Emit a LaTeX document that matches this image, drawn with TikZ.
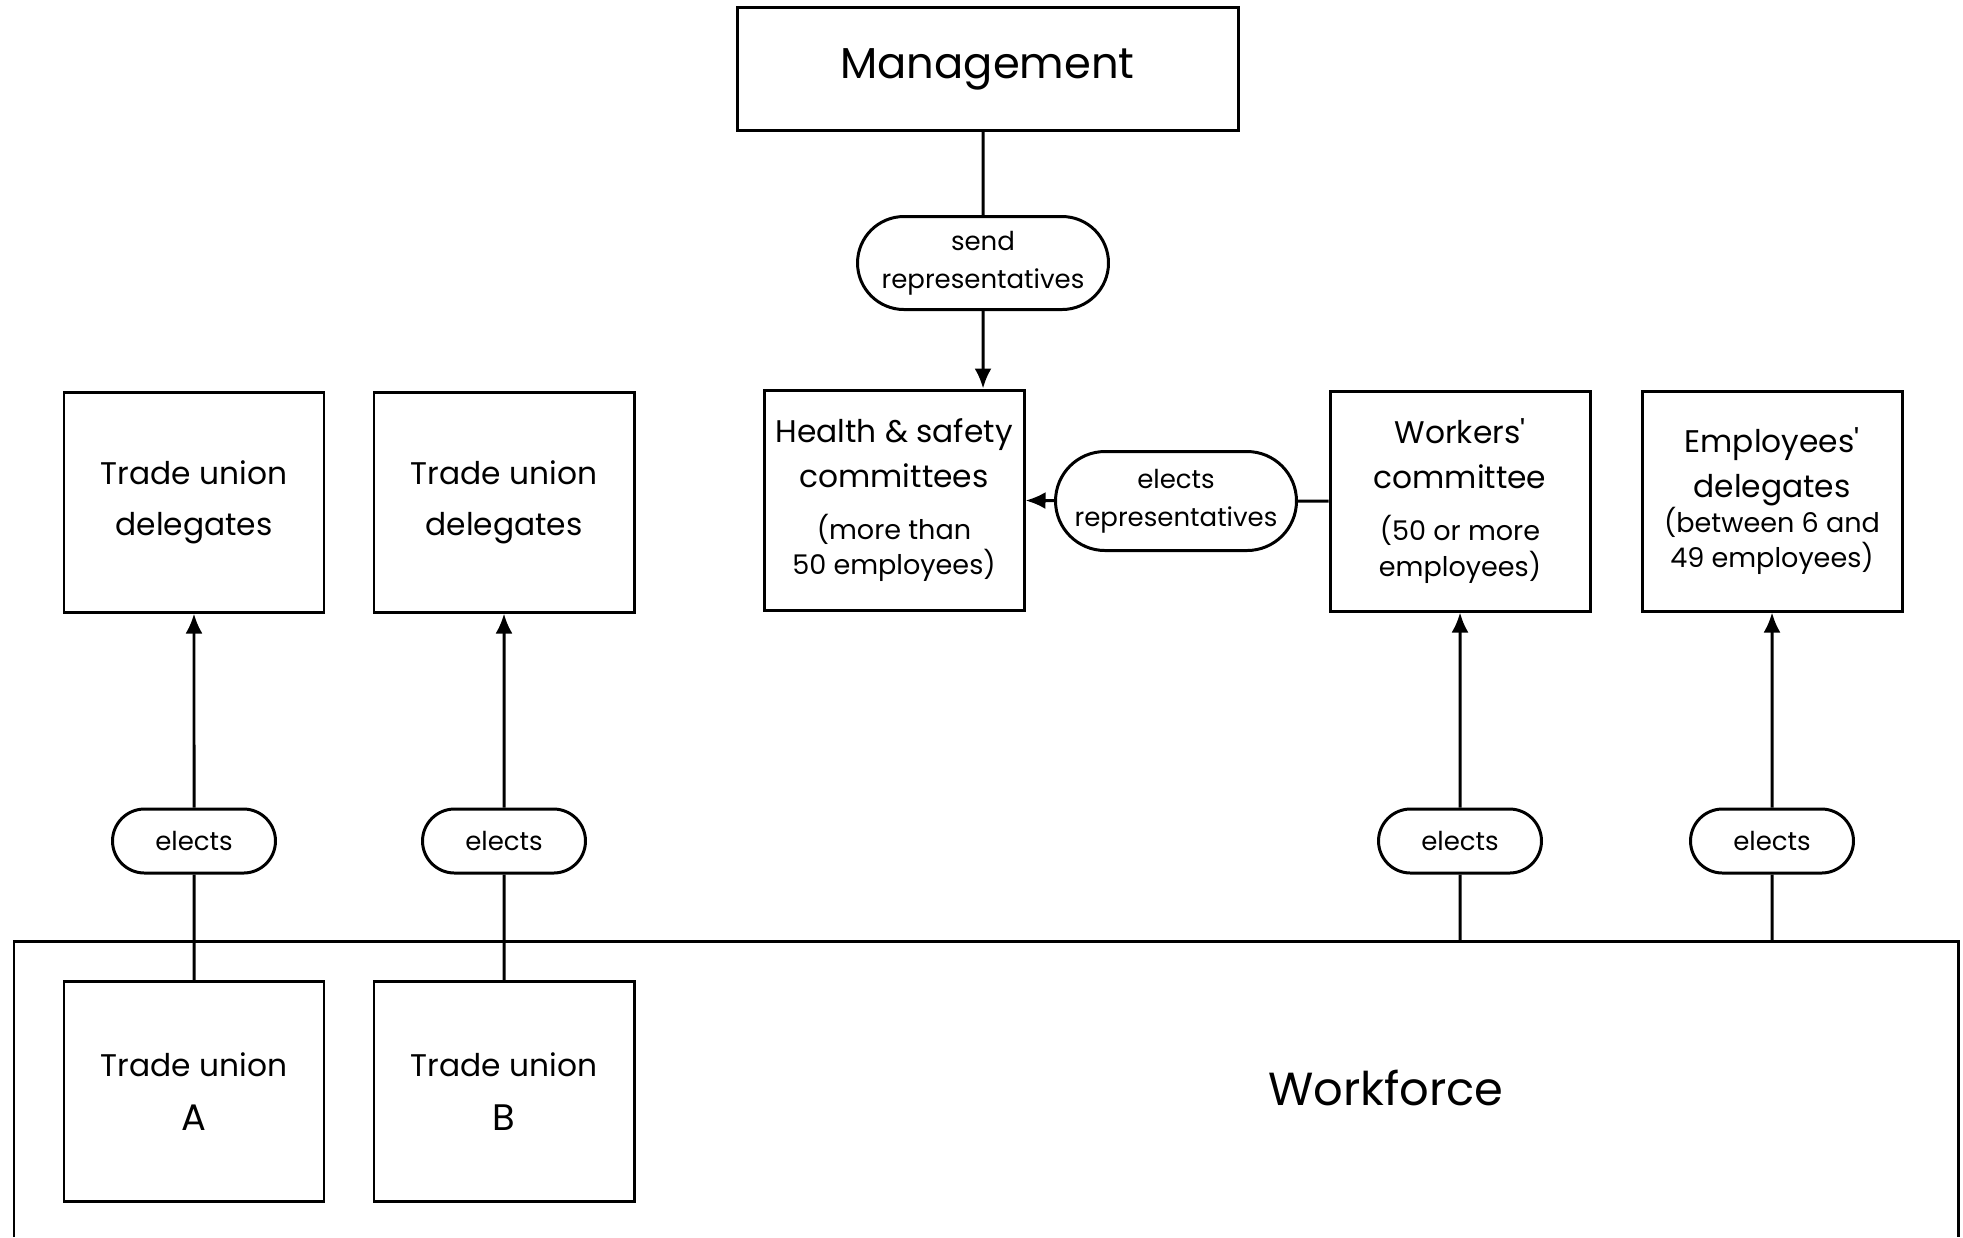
\documentclass[tikz,border=0pt]{standalone}
\usepackage{fontspec}
\setmainfont{Poppins}[Ligatures=TeXOff]
\usetikzlibrary{arrows.meta,shapes.misc}
\newcommand{\bigLabel}{\fontsize{12.3}{15}\selectfont}
\newcommand{\boxLabel}{\fontsize{8.9}{12.8}\selectfont}
\newcommand{\pillLabel}{\fontsize{7.4}{10.8}\selectfont}
\newcommand{\smallLabel}{\fontsize{7.7}{10}\selectfont}

\begin{document}
\begin{tikzpicture}[line width=0.85pt,
  box/.style={draw, align=center, minimum width=2.6cm, minimum height=2.2cm, inner sep=1pt, font=\boxLabel},
  pill/.style={draw, rounded rectangle, minimum width=1.7cm, minimum height=0.64cm, inner sep=1pt, font=\pillLabel},
  arrow/.style={-{Latex[length=2mm,width=1.7mm]}}]
\useasboundingbox (0,0) rectangle (19.63,-12.37);
\node[box, minimum width=5.01cm, minimum height=1.23cm, font=\bigLabel] (management) at (9.875,-0.69) {Management};
\node[pill, minimum width=2.58cm, minimum height=0.93cm, align=center] (sendRep) at (9.83,-2.63) {send\\representatives};
\node[box] (healthSafety)       at ( 8.94,-5.0)  {Health \& safety\\committees\\[1.8pt]\smallLabel (more than\\[-2.8pt]\smallLabel 50 employees)};
\node[pill, minimum width=2.48cm, minimum height=0.99cm, align=center] (electsRep) at (11.76,-5.01) {elects\\representatives};
\node[box] (workersCommittee)   at (14.6,-5.01)  {Workers'\\committee\\[2pt]\smallLabel (50 or more\\[-2.8pt]\smallLabel employees)};
\node[box] (employeesDelegates) at (17.72,-5.01) {Employees'\\delegates\\[-2.8pt]\smallLabel (between 6 and\\[-2.8pt]\smallLabel 49 employees)};
\node[box] (delegatesA)         at ( 1.94,-5.02) {Trade union\\[1.7pt]delegates};
\node[box] (delegatesB)         at ( 5.04,-5.02) {Trade union\\[1.7pt]delegates};
\node[pill] (electsA)           at ( 1.94,-8.41) {elects};
\node[pill] (electsB)           at ( 5.04,-8.41) {elects};
\node[pill] (electsC)           at (14.6,-8.41)  {elects};
\node[pill] (electsD)           at (17.72,-8.41) {elects};
\node[box] (tradeUnionA)        at ( 1.94,-10.915) {Trade union\\[2.5pt]\fontsize{10.5}{12.8}\selectfont A};
\node[box] (tradeUnionB)        at ( 5.04,-10.915) {Trade union\\[2.5pt]\fontsize{10.5}{12.8}\selectfont B};
\node[font=\fontsize{13.2}{15}\selectfont] (workforce) at (13.86,-10.88) {Workforce};
\coordinate (workforceTop) at (0.14,-9.41);

\draw (0.14,-12.37) |- (19.58,-9.41) -- (19.58,-12.37);
\draw (sendRep) -- (sendRep |- management.south);
\draw[arrow] (sendRep) -- (sendRep |- healthSafety.north);
\draw (workersCommittee) -- (electsRep);
\draw[arrow] (electsRep) -- (healthSafety);
\draw (tradeUnionA) -- (electsA);
\draw (tradeUnionB) -- (electsB);
\draw (workforceTop -| electsC) -- (electsC);
\draw (workforceTop -| electsD) -- (electsD);
\draw[arrow] (electsA) -- (delegatesA);
\draw[arrow] (electsB) -- (delegatesB);
\draw[arrow] (electsC) -- (workersCommittee);
\draw[arrow] (electsD) -- (employeesDelegates);
\end{tikzpicture}
\end{document}
